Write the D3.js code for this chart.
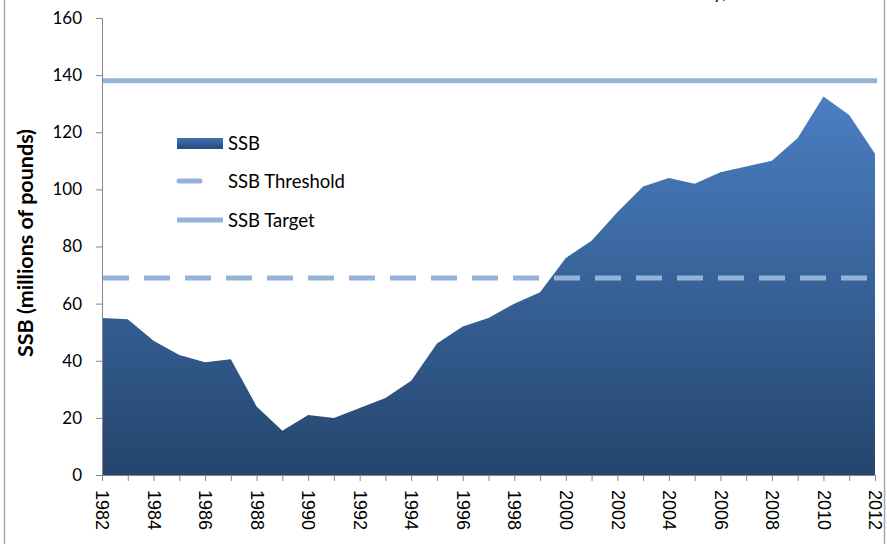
<!DOCTYPE html>
<meta charset='utf-8'>
<title>SSB</title>
<style>
  body { margin: 0; background: #fff; }
  svg { display: block; }
  .axis path, .axis line { stroke: #868686; }
  .ytick text { font-family: Lato, 'Open Sans', sans-serif; font-size: 17px; fill: #000; }
  .xtick text { font-family: 'Liberation Sans', Arial, sans-serif; font-size: 18px; fill: #000; }
  .legend text { font-family: Lato, 'Open Sans', sans-serif; font-size: 18.5px; fill: #000; }
</style>
<body>
<script src='https://cdn.jsdelivr.net/npm/d3@7'></script>
<script>

  var years = d3.range(1982, 2013)
  var ssb = [55, 54.5, 47, 42, 39.5, 40.5, 24, 15.5, 21, 20, 23.5, 27, 33, 46, 52, 55,
             60, 64, 76, 82, 92, 101, 104, 102, 106, 108, 110, 118, 132.5, 126, 112.5]
  var threshold = 69
  var target = 138
  var yTicks = [0, 20, 40, 60, 80, 100, 120, 140, 160]
  var legendLabels = ['SSB', 'SSB Threshold', 'SSB Target']

  var width = 887,
  height = 544

  var data = years.map(function(yr, i) { return { year: yr, value: ssb[i] } })

  var svg = d3.select('body').append('svg')
  .attr('width', width)
  .attr('height', height)

  var x = d3.scaleLinear().domain([1982, 2012]).range([102, 875])
  var y = d3.scaleLinear().domain([0, 160]).range([475, 18])

  var defs = svg.append('defs')
  var grad = defs.append('linearGradient')
  .attr('id', 'areaGrad')
  .attr('gradientUnits', 'userSpaceOnUse')
  .attr('x1', 0).attr('x2', 0)
  .attr('y1', y(d3.max(ssb))).attr('y2', y(0))
  grad.append('stop').attr('offset', '0%').attr('stop-color', '#4a7fc3')
  grad.append('stop').attr('offset', '100%').attr('stop-color', '#25456d')

  var sw = defs.append('linearGradient')
  .attr('id', 'swGrad')
  .attr('x1', 0).attr('x2', 0).attr('y1', 0).attr('y2', 1)
  sw.append('stop').attr('offset', '0%').attr('stop-color', '#4173b5')
  sw.append('stop').attr('offset', '100%').attr('stop-color', '#24497c')

  // frame sides
  svg.append('line').attr('x1', 4.5).attr('x2', 4.5).attr('y1', 0).attr('y2', height)
  .attr('stroke', '#a6a6a6').attr('stroke-width', 1.5)
  svg.append('line').attr('x1', 884.5).attr('x2', 884.5).attr('y1', 0).attr('y2', height)
  .attr('stroke', '#a6a6a6').attr('stroke-width', 1.5)

  // title sits above the picture; only its descenders show
  svg.append('text')
  .attr('x', 726).attr('y', -1)
  .attr('text-anchor', 'end')
  .style('font-family', 'Lato, sans-serif').style('font-size', '18px')
  .text('y,')

  /* ------- AREA -------*/
  var area = d3.area()
  .x(function(d) { return x(d.year) })
  .y0(y(0))
  .y1(function(d) { return y(d.value) })

  svg.append('path')
  .datum(data)
  .attr('d', area)
  .attr('fill', 'url(#areaGrad)')

  /* ------- REFERENCE LINES -------*/
  svg.append('line')
  .attr('x1', x(1982)).attr('x2', 877)
  .attr('y1', y(target)).attr('y2', y(target))
  .attr('stroke', '#95b3d7').attr('stroke-width', 5)

  svg.append('line')
  .attr('x1', x(1982) + 1).attr('x2', 877)
  .attr('y1', y(threshold)).attr('y2', y(threshold))
  .attr('stroke', '#95b3d7').attr('stroke-width', 5)
  .attr('stroke-dasharray', '26,15')

  /* ------- AXES -------*/
  svg.append('g')
  .attr('class', 'axis ytick')
  .attr('transform', 'translate(' + x(1982) + ',0)')
  .call(d3.axisLeft(y).tickValues(yTicks).tickSize(6).tickPadding(14))

  var xAxis = svg.append('g')
  .attr('class', 'axis xtick')
  .attr('transform', 'translate(0,' + y(0) + ')')
  .call(d3.axisBottom(x).tickValues(years).tickSize(6)
    .tickFormat(function(d) { return d % 2 === 0 ? d : '' }))

  xAxis.selectAll('text')
  .attr('transform', 'rotate(90)')
  .attr('x', 15)
  .attr('y', 0)
  .attr('dy', '0.35em')
  .attr('text-anchor', 'start')

  svg.append('text')
  .attr('transform', 'translate(33,243) rotate(-90)')
  .attr('text-anchor', 'middle')
  .style('font-family', 'Lato, sans-serif')
  .style('font-size', '21.5px')
  .style('font-weight', 'bold')
  .text('SSB (millions of pounds)')

  /* ------- LEGEND -------*/
  var legend = svg.append('g').attr('class', 'legend')

  legend.append('rect')
  .attr('x', 177).attr('y', 138).attr('width', 46).attr('height', 11)
  .attr('fill', 'url(#swGrad)')

  legend.append('line')
  .attr('x1', 179).attr('x2', 200).attr('y1', 181).attr('y2', 181)
  .attr('stroke', '#95b3d7').attr('stroke-width', 5).attr('stroke-linecap', 'round')

  legend.append('line')
  .attr('x1', 177).attr('x2', 223).attr('y1', 220).attr('y2', 220)
  .attr('stroke', '#95b3d7').attr('stroke-width', 5)

  legend.selectAll('text.lbl')
  .data(legendLabels)
  .enter().append('text')
  .attr('class', 'lbl')
  .attr('x', 228)
  .attr('y', function(d, i) { return [144, 182, 221][i] })
  .attr('dy', '0.35em')
  .text(function(d) { return d })

</script>
</body>
